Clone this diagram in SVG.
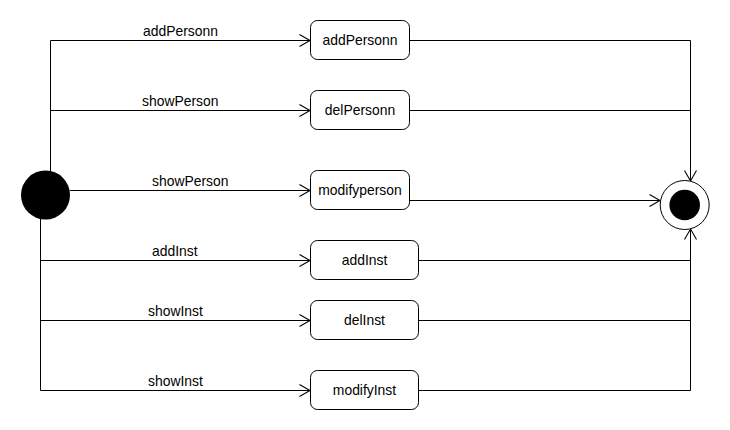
<svg xmlns="http://www.w3.org/2000/svg" width="730" height="430" viewBox="0 0 730 430">
<style>
.box{fill:#fff;stroke:#000;stroke-width:1}
.t{font-family:"Liberation Sans",Arial,sans-serif;font-size:13.9px;fill:#000}
.c{text-anchor:middle}
.ln{fill:none;stroke:#000;stroke-width:1}
</style>
<defs>
<marker id="ah" markerUnits="userSpaceOnUse" markerWidth="14" markerHeight="16" viewBox="0 0 14 16" refX="12" refY="8" orient="auto">
<path d="M1.5,2 L12,8 L1.5,14" fill="none" stroke="#000" stroke-width="1.1"/>
</marker>
</defs>
<rect width="730" height="430" fill="#fff"/>
<g id="connectors">
<path class="ln" d="M50.5,172 V40.5 H310" marker-end="url(#ah)"/>
<path class="ln" d="M50.5,110.5 H310" marker-end="url(#ah)"/>
<path class="ln" d="M70,190.5 H310" marker-end="url(#ah)"/>
<path class="ln" d="M40.5,216 V390.5 H310" marker-end="url(#ah)"/>
<path class="ln" d="M40.5,260.5 H310" marker-end="url(#ah)"/>
<path class="ln" d="M40.5,320.5 H310" marker-end="url(#ah)"/>
<path class="ln" d="M410,40.5 H690.5 V181" marker-end="url(#ah)"/>
<path class="ln" d="M410,110.5 H690.5"/>
<path class="ln" d="M410,200.5 H660" marker-end="url(#ah)"/>
<path class="ln" d="M419,390.5 H690.5 V229" marker-end="url(#ah)"/>
<path class="ln" d="M419,260.5 H690.5"/>
<path class="ln" d="M419,320.5 H690.5"/>
<text class="t" x="143" y="36">addPersonn</text>
<text class="t" x="142" y="106">showPerson</text>
<text class="t" x="152" y="186">showPerson</text>
<text class="t" x="152" y="256">addInst</text>
<text class="t" x="148" y="316">showInst</text>
<text class="t" x="148" y="386">showInst</text>
</g>
<g id="start"><circle cx="45.5" cy="195" r="24.5" fill="#000"/></g>
<g id="n-addPersonn"><rect class="box" x="310.5" y="20.5" width="99" height="39" rx="7"/><text class="t c" x="360" y="45">addPersonn</text></g>
<g id="n-delPersonn"><rect class="box" x="310.5" y="90.5" width="99" height="39" rx="7"/><text class="t c" x="360" y="115">delPersonn</text></g>
<g id="n-modifyperson"><rect class="box" x="310.5" y="170.5" width="99" height="39" rx="7"/><text class="t c" x="360" y="195">modifyperson</text></g>
<g id="n-addInst"><rect class="box" x="310.5" y="240.5" width="108" height="39" rx="7"/><text class="t c" x="364.5" y="265">addInst</text></g>
<g id="n-delInst"><rect class="box" x="310.5" y="300.5" width="108" height="39" rx="7"/><text class="t c" x="364.5" y="325">delInst</text></g>
<g id="n-modifyInst"><rect class="box" x="310.5" y="370.5" width="108" height="39" rx="7"/><text class="t c" x="364.5" y="395">modifyInst</text></g>
<g id="end"><circle cx="684.7" cy="205" r="24.5" fill="#fff" stroke="#000" stroke-width="1"/><circle cx="684.7" cy="205" r="15.3" fill="#000"/></g>
</svg>
